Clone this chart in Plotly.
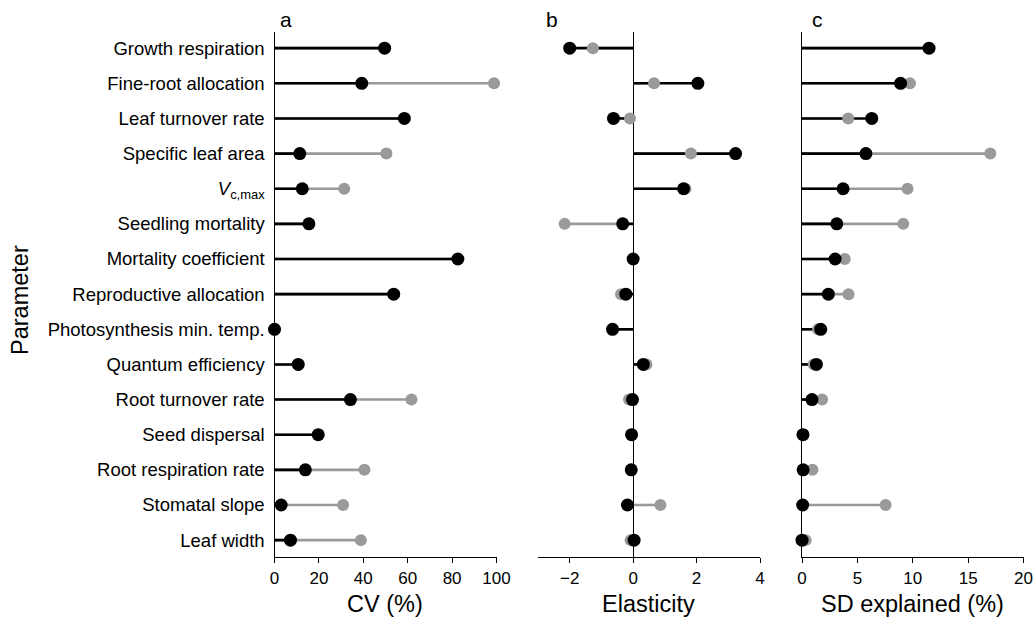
import plotly.graph_objects as go

params = ["Growth respiration", "Fine-root allocation", "Leaf turnover rate",
          "Specific leaf area", "<i>V</i><sub>c,max</sub>", "Seedling mortality",
          "Mortality coefficient", "Reproductive allocation",
          "Photosynthesis min. temp.", "Quantum efficiency", "Root turnover rate",
          "Seed dispersal", "Root respiration rate", "Stomatal slope", "Leaf width"]

# Panel a: CV (%)
cv_black = [49.6, 39.3, 58.5, 11.4, 12.5, 15.5, 82.6, 53.7, 0.0, 10.7, 34.2, 19.7, 13.9, 3.0, 7.2]
cv_gray = [49.6, 98.9, 58.5, 50.4, 31.4, 15.5, 82.6, 53.7, 0.0, 10.7, 61.7, 19.7, 40.5, 30.9, 38.9]

# Panel b: Elasticity
el_black = [-2.0, 2.04, -0.62, 3.23, 1.59, -0.33, 0.0, -0.23, -0.65, 0.32, -0.02, -0.05, -0.06, -0.18, 0.03]
el_gray = [-1.27, 0.66, -0.10, 1.82, 1.65, -2.16, 0.0, -0.38, -0.65, 0.42, -0.13, -0.05, -0.06, 0.86, -0.08]

# Panel c: SD explained (%)
sd_black = [11.47, 8.9, 6.3, 5.77, 3.71, 3.14, 2.99, 2.38, 1.69, 1.3, 0.9, 0.09, 0.1, 0.06, 0.0]
sd_gray = [11.47, 9.75, 4.17, 17.0, 9.53, 9.14, 3.86, 4.2, 1.45, 1.06, 1.81, 0.05, 0.94, 7.55, 0.33]

W, H = 1036, 619
ML, MR, MT, MB = 0, 0, 32, 62
BLACK = "#000000"
GRAY = "#9a9a9a"
FONT = "Liberation Sans, Arial, Helvetica, sans-serif"
rows = list(range(len(params)))
fig = go.Figure()


def stems(vals):
    xs, ys = [], []
    for i, v in zip(rows, vals):
        xs += [0, v, None]
        ys += [i, i, None]
    return xs, ys


panels = [("x", "y", cv_black, cv_gray), ("x2", "y2", el_black, el_gray), ("x3", "y3", sd_black, sd_gray)]
for xa, ya, blk, gry in panels:
    gx, gy = stems(gry)
    bx, by = stems(blk)
    fig.add_trace(go.Scatter(x=gx, y=gy, mode="lines", line=dict(color=GRAY, width=2.6),
                             xaxis=xa, yaxis=ya, hoverinfo="skip", showlegend=False))
    fig.add_trace(go.Scatter(x=bx, y=by, mode="lines", line=dict(color=BLACK, width=2.6),
                             xaxis=xa, yaxis=ya, hoverinfo="skip", showlegend=False))
    fig.add_trace(go.Scatter(x=gry, y=rows, mode="markers", marker=dict(color=GRAY, size=12),
                             xaxis=xa, yaxis=ya, cliponaxis=False, showlegend=False))
    fig.add_trace(go.Scatter(x=blk, y=rows, mode="markers", marker=dict(color=BLACK, size=13),
                             xaxis=xa, yaxis=ya, cliponaxis=False, showlegend=False))


def dom(a, b):
    return [a / W, b / W]


yrange = [14.48, -0.46]
tickfont = dict(family=FONT, size=17, color="black")
common_x = dict(showline=True, linecolor="black", linewidth=1.3, ticks="outside",
                ticklen=5, tickwidth=1.3, tickcolor="black", showgrid=False,
                tickfont=tickfont, ticklabelstandoff=0, automargin=False)

fig.update_layout(
    width=W, height=H, autosize=False,
    margin=dict(l=ML, r=MR, t=MT, b=MB, pad=0, autoexpand=False),
    plot_bgcolor="white", paper_bgcolor="white",
    font=dict(family=FONT, color="black"),
    showlegend=False,
    xaxis=dict(domain=dom(274.5, 496.5), range=[0, 100], tickvals=[0, 20, 40, 60, 80, 100],
               anchor="y", zeroline=False, **common_x),
    xaxis2=dict(domain=dom(538, 760), range=[-3, 4], tickvals=[-2, 0, 2, 4], anchor="y2",
                zeroline=True, zerolinecolor="black", zerolinewidth=1.3, **common_x),
    xaxis3=dict(domain=dom(802, 1023.5), range=[0, 20], tickvals=[0, 5, 10, 15, 20],
                anchor="y3", zeroline=False, **common_x),
    yaxis=dict(range=yrange, tickvals=rows, ticktext=params, showline=True, linecolor="black",
               linewidth=1.3, ticks="", showgrid=False, zeroline=False, automargin=False,
               tickfont=dict(family=FONT, size=18.5, color="black"),
               anchor="x", ticklabelstandoff=5),
    yaxis2=dict(range=yrange, showticklabels=False, showline=False, ticks="", showgrid=False,
                zeroline=False, anchor="x2"),
    yaxis3=dict(range=yrange, showticklabels=False, showline=True, linecolor="black", linewidth=1.3,
                ticks="", showgrid=False, zeroline=False, anchor="x3"),
)

plot_h = H - MT - MB


def py(ypx):
    return (H - MB - ypx) / plot_h


letter_font = dict(family=FONT, size=21, color="black")
title_font = dict(family=FONT, size=23.5, color="black")


def ann(text, xpx, ypx, font, **kw):
    return dict(text=text, x=xpx / W, y=py(ypx), xref="paper", yref="paper", showarrow=False,
                xanchor="center", yanchor="middle", font=font, **kw)


annotations = [
    ann("a", 286, 19, letter_font),
    ann("b", 552, 19, letter_font),
    ann("c", 817, 19, letter_font),
    ann("CV (%)", 385, 604, title_font),
    ann("Elasticity", 648, 604, title_font),
    ann("SD explained (%)", 912, 604, title_font),
    ann("Parameter", 20, 300, title_font, textangle=-90),
]
fig.update_layout(annotations=annotations)

fig.write_html("out.html", config={"displayModeBar": False},
               post_script="document.body.style.margin='0';document.body.style.overflow='hidden';")
